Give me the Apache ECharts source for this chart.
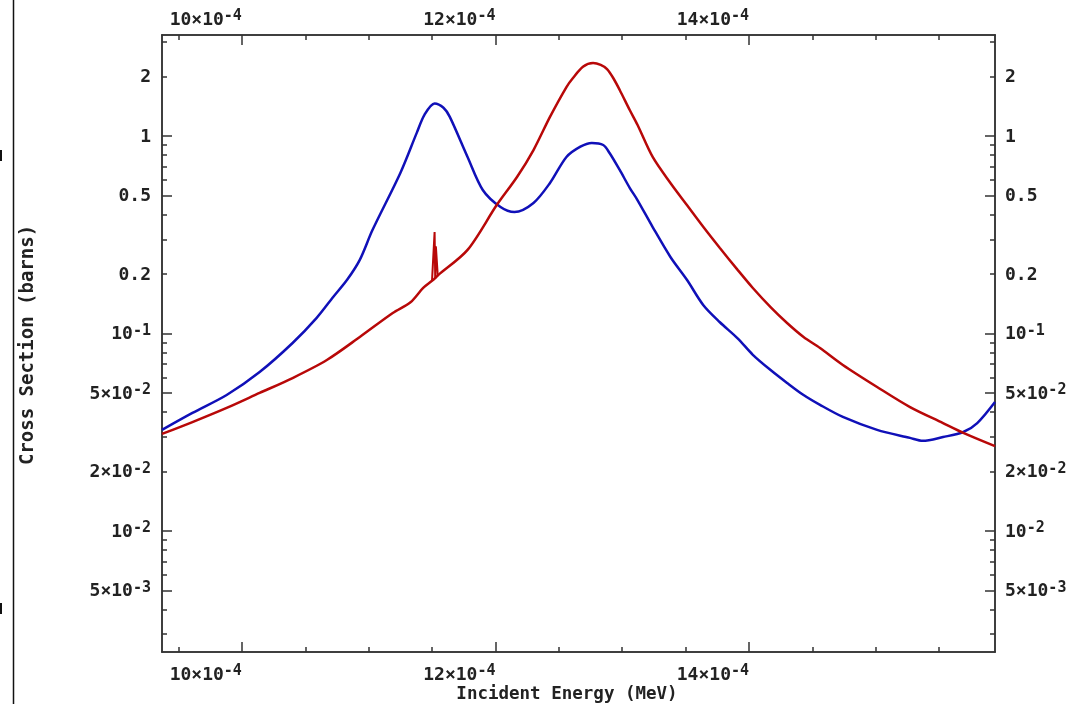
<!DOCTYPE html>
<html>
<head>
<meta charset="utf-8">
<script src="https://cdn.jsdelivr.net/npm/echarts@6.0.0/dist/echarts.min.js"></script>
<style>
    html, body { margin: 0; padding: 0; background: #fff; }
    #chart { width: 1079px; height: 704px; }
</style>
</head>
<body>
<div id="chart"></div>
<script>
// energies in units of 1e-4 MeV, cross sections in barns
const blueEnergy = [9.37, 9.61, 9.88, 10.14, 10.40, 10.59, 10.72, 10.83, 10.93, 11.03, 11.25, 11.38, 11.44, 11.52, 11.59, 11.64, 11.78, 11.90, 12.04, 12.15, 12.30, 12.43, 12.56, 12.67, 12.76, 12.85, 12.90, 12.98, 13.06, 13.12, 13.24, 13.38, 13.51, 13.64, 13.77, 13.91, 14.03, 14.17, 14.30, 14.43, 14.56, 14.74, 15.01, 15.27, 15.37, 15.53, 15.69, 15.80, 15.94];
const blueXs = [0.0325, 0.0396, 0.0488, 0.0638, 0.0895, 0.120, 0.153, 0.187, 0.236, 0.334, 0.650, 1.04, 1.28, 1.46, 1.39, 1.25, 0.783, 0.533, 0.437, 0.412, 0.458, 0.578, 0.783, 0.883, 0.922, 0.900, 0.820, 0.673, 0.545, 0.474, 0.346, 0.244, 0.187, 0.139, 0.114, 0.0945, 0.0780, 0.0653, 0.0562, 0.0488, 0.0435, 0.0378, 0.0325, 0.0296, 0.0286, 0.0299, 0.0317, 0.0352, 0.0450];

const redEnergy = [9.37, 9.61, 9.88, 10.14, 10.40, 10.67, 10.93, 11.19, 11.33, 11.43, 11.51, 11.55, 11.78, 12.01, 12.17, 12.30, 12.43, 12.56, 12.61, 12.69, 12.77, 12.83, 12.88, 12.93, 12.98, 13.06, 13.12, 13.24, 13.38, 13.51, 13.64, 13.77, 13.91, 14.03, 14.17, 14.30, 14.43, 14.56, 14.74, 15.01, 15.27, 15.53, 15.69, 15.94];
const redXs = [0.0310, 0.0356, 0.0420, 0.0500, 0.0595, 0.0734, 0.0960, 0.127, 0.144, 0.170, 0.187, 0.198, 0.265, 0.447, 0.620, 0.849, 1.25, 1.77, 1.96, 2.24, 2.34, 2.29, 2.18, 1.96, 1.71, 1.35, 1.14, 0.783, 0.578, 0.447, 0.346, 0.271, 0.210, 0.170, 0.136, 0.113, 0.0960, 0.0844, 0.0693, 0.0536, 0.0424, 0.0352, 0.0314, 0.0269];

// narrow spike on the red curve near 11.52
const spikeEnergy = [11.50, 11.515, 11.52, 11.525, 11.53, 11.535, 11.545, 11.55];
const spikeXs = [0.186, 0.187, 0.326, 0.190, 0.276, 0.276, 0.196, 0.198];

const xMin = 9.37, xMax = 15.94;
const yMin = 0.002439, yMax = 3.246;

const xMajor = [10, 12, 14];
const xMinor = [9.5, 10.5, 11, 11.5, 12.5, 13, 13.5, 14.5, 15, 15.5];

const yLabelVals = [2, 1, 0.5, 0.2, 0.1, 0.05, 0.02, 0.01, 0.005];
const yLabelText = ['{n|2}', '{n|1}', '{n|0.5}', '{n|0.2}', '{n|10}{e|-1}', '{n|5×10}{e|-2}', '{n|2×10}{e|-2}', '{n|10}{e|-2}', '{n|5×10}{e|-3}'];
const yMajor = [1, 0.5, 0.1, 0.05, 0.01, 0.005];
const yMinor = [3, 2, 0.9, 0.8, 0.7, 0.6, 0.4, 0.3, 0.2, 0.09, 0.08, 0.07, 0.06, 0.04, 0.03, 0.02, 0.009, 0.008, 0.007, 0.006, 0.004, 0.003];

const axisColor = '#333';
const mono = 'DejaVu Sans Mono';
const rich = {
    n: {fontFamily: mono, fontWeight: 'bold', fontSize: 18, color: '#222', lineHeight: 20, verticalAlign: 'bottom'},
    e: {fontFamily: mono, fontWeight: 'bold', fontSize: 15, color: '#222', lineHeight: 20, verticalAlign: 'top'}
};

const lg = v => Math.log10(v);
const zip = (xs, ys) => xs.map((x, i) => [x, lg(ys[i])]);

function xLabel(v) {
    for (let i = 0; i < xMajor.length; i++) {
        if (Math.abs(xMajor[i] - v) < 1e-6) return '{n|' + xMajor[i] + '×10}{e|-4}';
    }
    return '';
}
function yLabel(v) {
    for (let i = 0; i < yLabelVals.length; i++) {
        if (Math.abs(lg(yLabelVals[i]) - v) < 1e-6) return yLabelText[i];
    }
    return '';
}

function makeX(position, ticks, len, withLabel, margin) {
    return {
        type: 'value', position: position, min: xMin, max: xMax,
        axisLine: {show: true, onZero: false, lineStyle: {color: axisColor, width: 1.5}},
        axisTick: {show: true, inside: true, length: len, customValues: ticks,
            lineStyle: {color: axisColor, width: 1.5}},
        axisLabel: {show: withLabel, customValues: xMajor, formatter: xLabel, rich: rich,
            align: 'right', margin: margin},
        splitLine: {show: false}
    };
}
function makeY(position, ticks, len, withLabel, margin) {
    return {
        type: 'value', position: position, min: lg(yMin), max: lg(yMax),
        axisLine: {show: true, onZero: false, lineStyle: {color: axisColor, width: 1.5}},
        axisTick: {show: true, inside: true, length: len, customValues: ticks.map(lg),
            lineStyle: {color: axisColor, width: 1.5}},
        axisLabel: {show: withLabel, customValues: yLabelVals.map(lg), formatter: yLabel, rich: rich,
            margin: margin},
        splitLine: {show: false}
    };
}

var myChart = echarts.init(document.getElementById('chart'));
var option = {
    animation: false,
    backgroundColor: '#fff',
    grid: {left: 162, right: 84, top: 35, bottom: 52},
    xAxis: [
        makeX('bottom', xMajor, 10, true, 12),
        makeX('top', xMajor, 10, true, 6),
        makeX('bottom', xMinor, 5, false, 0),
        makeX('top', xMinor, 5, false, 0)
    ],
    yAxis: [
        makeY('left', yMajor, 10, true, 11),
        makeY('right', yMajor, 10, true, 10),
        makeY('left', yMinor, 5, false, 0),
        makeY('right', yMinor, 5, false, 0)
    ],
    series: [
        {
            type: 'line', xAxisIndex: 0, yAxisIndex: 0,
            data: zip(blueEnergy, blueXs),
            showSymbol: false, smooth: 0.3,
            lineStyle: {color: '#1010b8', width: 2.5}
        },
        {
            type: 'line', xAxisIndex: 0, yAxisIndex: 0,
            data: zip(redEnergy, redXs),
            showSymbol: false, smooth: 0.3,
            lineStyle: {color: '#b80808', width: 2.5}
        },
        {
            type: 'line', xAxisIndex: 0, yAxisIndex: 0,
            data: zip(spikeEnergy, spikeXs),
            showSymbol: false,
            lineStyle: {color: '#b80808', width: 2}
        }
    ],
    graphic: [
        {type: 'line', shape: {x1: 13.5, y1: 0, x2: 13.5, y2: 704}, style: {stroke: '#111', lineWidth: 1.5}},
        {type: 'rect', shape: {x: 0, y: 150, width: 2, height: 11}, style: {fill: '#111'}},
        {type: 'rect', shape: {x: 0, y: 603, width: 2, height: 11}, style: {fill: '#111'}},
        {
            type: 'text', x: 567, y: 694,
            style: {text: 'Incident Energy (MeV)', font: 'bold 17.5px "DejaVu Sans Mono"', fill: '#222',
                align: 'center', verticalAlign: 'middle'}
        },
        {
            type: 'text', x: 28, y: 345, rotation: Math.PI / 2,
            style: {text: 'Cross Section (barns)', font: 'bold 19px "DejaVu Sans Mono"', fill: '#222',
                align: 'center', verticalAlign: 'middle'}
        }
    ]
};
myChart.setOption(option, true);
</script>
</body>
</html>
